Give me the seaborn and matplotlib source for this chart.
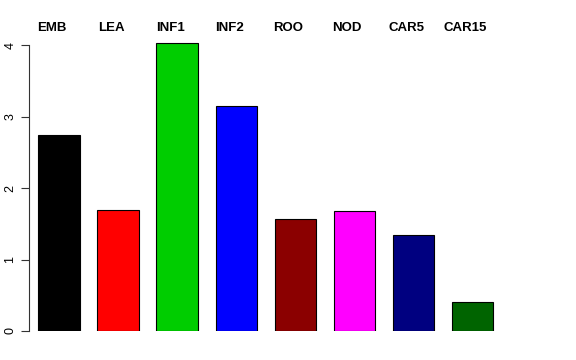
import matplotlib
matplotlib.use("Agg")
import matplotlib.pyplot as plt
import seaborn as sns
import pandas as pd

categories = ["EMB", "LEA", "INF1", "INF2", "ROO", "NOD", "CAR5", "CAR15"]
values = [2.74, 1.69, 4.03, 3.15, 1.57, 1.68, 1.34, 0.41]
colors = ["#000000", "#FF0000", "#00CD00", "#0000FF", "#8B0000", "#FF00FF", "#000080", "#006400"]

df = pd.DataFrame({"tissue": categories, "value": values})

sns.set_style("white")
plt.rcParams["font.family"] = ["Liberation Sans", "DejaVu Sans"]

fig = plt.figure(figsize=(5.76, 3.6), dpi=100)
ax = fig.add_axes([29 / 576, 29 / 360, 473 / 576, 301 / 360])

sns.barplot(data=df, x="tissue", y="value", hue="tissue", palette=colors,
            saturation=1, width=0.70, edgecolor="black", linewidth=0.8,
            legend=False, ax=ax)

ax.set_xlim(-0.508, 7.5)
ax.set_ylim(0, 301 / 71.5)
ax.set_xlabel("")
ax.set_ylabel("")
ax.set_xticks([])
ax.set_yticks([0, 1, 2, 3, 4])
ax.tick_params(axis="y", left=True, length=6, width=0.8, color="#333333",
               labelsize=9, labelcolor="black", pad=3)
for lab in ax.get_yticklabels():
    lab.set_rotation(90)
    lab.set_va("center")

for s in ["top", "right", "bottom"]:
    ax.spines[s].set_visible(False)
ax.spines["left"].set_bounds(0, 4)
ax.spines["left"].set_color("#333333")
ax.spines["left"].set_linewidth(0.8)

# labels along the top, as in the original
for i, name in enumerate(categories):
    ax.text(i - 0.12, 4.24, name, ha="center", va="center", fontsize=9.5,
            fontweight="bold", color="black", clip_on=False)

fig.savefig("out.png", dpi=100)
